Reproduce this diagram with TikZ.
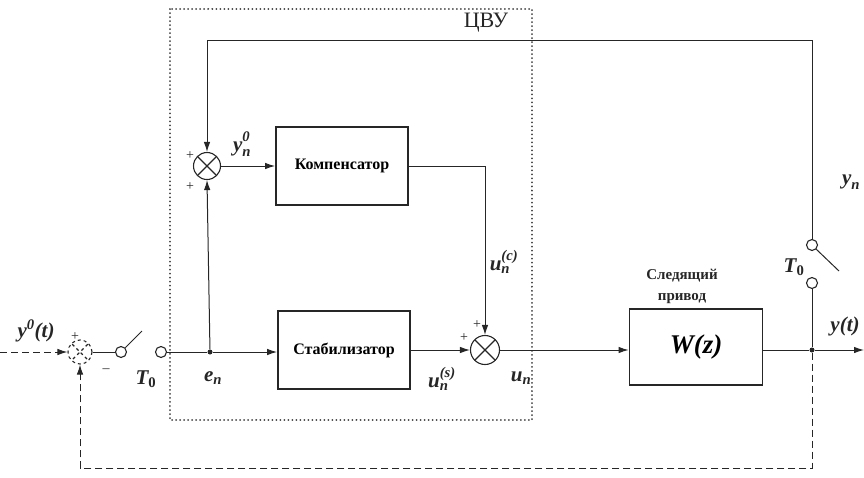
\documentclass[tikz,border=0pt]{standalone}
\usepackage{amsmath}
\usepackage{fontspec}
\setmainfont{Liberation Serif}
\usetikzlibrary{arrows.meta,calc}
\newcommand\mi[1]{\text{\bfseries\itshape #1}}
\begin{document}
\begin{tikzpicture}[x=1pt,y=-1pt,
  ink/.style={black!85},
  ln/.style={ink,line width=1pt},
  arr/.style={ln,-{Latex[length=10pt,width=6.5pt]}},
  blk/.style={draw=black!85,line width=1.8pt,minimum width=132pt,minimum height=78pt,inner sep=0pt,
     font=\fontsize{16}{18}\selectfont\bfseries},
  sumnode/.style={circle,draw=black!85,line width=1.1pt,minimum size=27pt,inner sep=0pt,
     path picture={\draw[black!85,line width=1.1pt] (path picture bounding box.north west)--(path picture bounding box.south east)
       (path picture bounding box.north east)--(path picture bounding box.south west);}},
  contact/.style={circle,draw=black!85,line width=1.1pt,fill=white,minimum size=11pt,inner sep=0pt},
  lbl/.style={font=\fontsize{21}{23}\selectfont,text=black!85},
  sgn/.style={font=\fontsize{14}{14}\selectfont,text=black!85},
  jdot/.style={circle,fill=black!85,minimum size=5pt,inner sep=0pt},
  dashln/.style={ink,line width=1pt,dash pattern=on 7pt off 4pt}
]
\useasboundingbox (0,0) rectangle (864,477);
% CVU dotted box
\draw[black!75,line width=2pt,dash pattern=on 0.01pt off 4pt,line cap=round] (170,9) rectangle (532,420);
\node[lbl,font=\fontsize{22}{24}\selectfont] (cvu) at (486,23) {ЦВУ};

% nodes
\node[circle,draw=black!85,line width=1.1pt,dashed,minimum size=24pt,inner sep=0pt,
  path picture={\draw[black!85,line width=1.1pt,dashed] (path picture bounding box.north west)--(path picture bounding box.south east)
       (path picture bounding box.north east)--(path picture bounding box.south west);}] (cmp) at (80,352) {};
\node[contact] (swA) at (121,352) {};
\node[contact] (swB) at (161,352) {};
\coordinate (bladeA) at (142,331);
\node[jdot] (en) at (210,352) {};
\node[blk] (stab) at (344,350) {Стабилизатор};
\node[blk] (komp) at (342,166) {Компенсатор};
\node[sumnode] (s1) at (207,166) {};
\node[sumnode,minimum size=29pt] (s2) at (485,350) {};
\node[blk,minimum width=133pt,minimum height=76pt,font=\fontsize{27}{29}\selectfont\bfseries\itshape] (W) at (696,347) {W(z)};
\node[jdot] (br) at (812,350) {};
\coordinate (out) at (864,350);
\node[contact] (swC) at (812,245) {};
\node[contact] (swD) at (812,283) {};
\coordinate (bladeC) at (839,271);
\coordinate (tr) at (812,40);
\coordinate (tl) at (207,40);
\coordinate (in) at (0,352);
\coordinate (fbR) at (812,468);

% connections
\draw[dashln,-{Latex[length=10pt,width=6.5pt]}] (in) -- (cmp.west);
\draw[ln] (cmp.east) -- (swA.west);
\draw[ln] (swA.north east) -- (bladeA);
\draw[ln] (swB.east) -- (en);
\draw[arr] (en) -- (stab.west|-en);
\draw[arr] (en) -- (s1.south);
\draw[arr] (s1.east) -- (komp.west|-s1);
\draw[arr] (komp.east) -| (s2.north);
\draw[arr] (stab.east|-s2) -- (s2.west);
\draw[arr] (s2.east) -- (W.west|-s2);
\draw[ln] (W.east|-br) -- (br);
\draw[arr] (br) -- (out);
\draw[ln] (br) -- (swD.south);
\draw[ln] (swC.south east) -- (bladeC);
\draw[ln] (swC.north) -- (tr) -- (tl);
\draw[arr] (tl) -- (s1.north);
\draw[dashln,-{Latex[length=10pt,width=6.5pt]}] (br) -- (fbR) -| (cmp.south);

% labels
\node[lbl] (ly0) at (36,331) {$\mi{y}^{\mi{0}}\mi{(t)}$};
\node[sgn] (pc) at (75,337) {+};
\node[sgn] (mc) at (106,371) {--};
\node[lbl] (T0a) at (146,379) {$\mi{T}_{\mathbf{0}}$};
\node[lbl] (len) at (213,378) {$\mi{e}_{\mi{n}}$};
\node[sgn] (p1a) at (190,156) {+};
\node[sgn] (p1b) at (190,187) {+};
\node[lbl] (ly0n) at (242,144) {$\mi{y}_{\mi{n}}^{\mi{\raisebox{2.5pt}{0}}}$};
\node[lbl] (luc) at (504,262) {$\mi{u}_{\mi{n}}^{\mi{(c)}}$};
\node[sgn] (p2a) at (464,338) {+};
\node[sgn] (p2b) at (477,325) {+};
\node[lbl] (lus) at (442,379) {$\mi{u}_{\mi{n}}^{\mi{(s)}}$};
\node[lbl] (lun) at (521,378) {$\mi{u}_{\mi{n}}$};
\node[font=\fontsize{15}{21}\selectfont\bfseries,text=black!85,align=center] (lsp) at (682,286) {Следящий\\привод};
\node[lbl] (T0b) at (794,267) {$\mi{T}_{\mathbf{0}}$};
\node[lbl] (lyn) at (851,182) {$\mi{y}_{\mi{n}}$};
\node[lbl] (lyt) at (845,326) {$\mi{y}\mi{(t)}$};
\end{tikzpicture}
\end{document}
